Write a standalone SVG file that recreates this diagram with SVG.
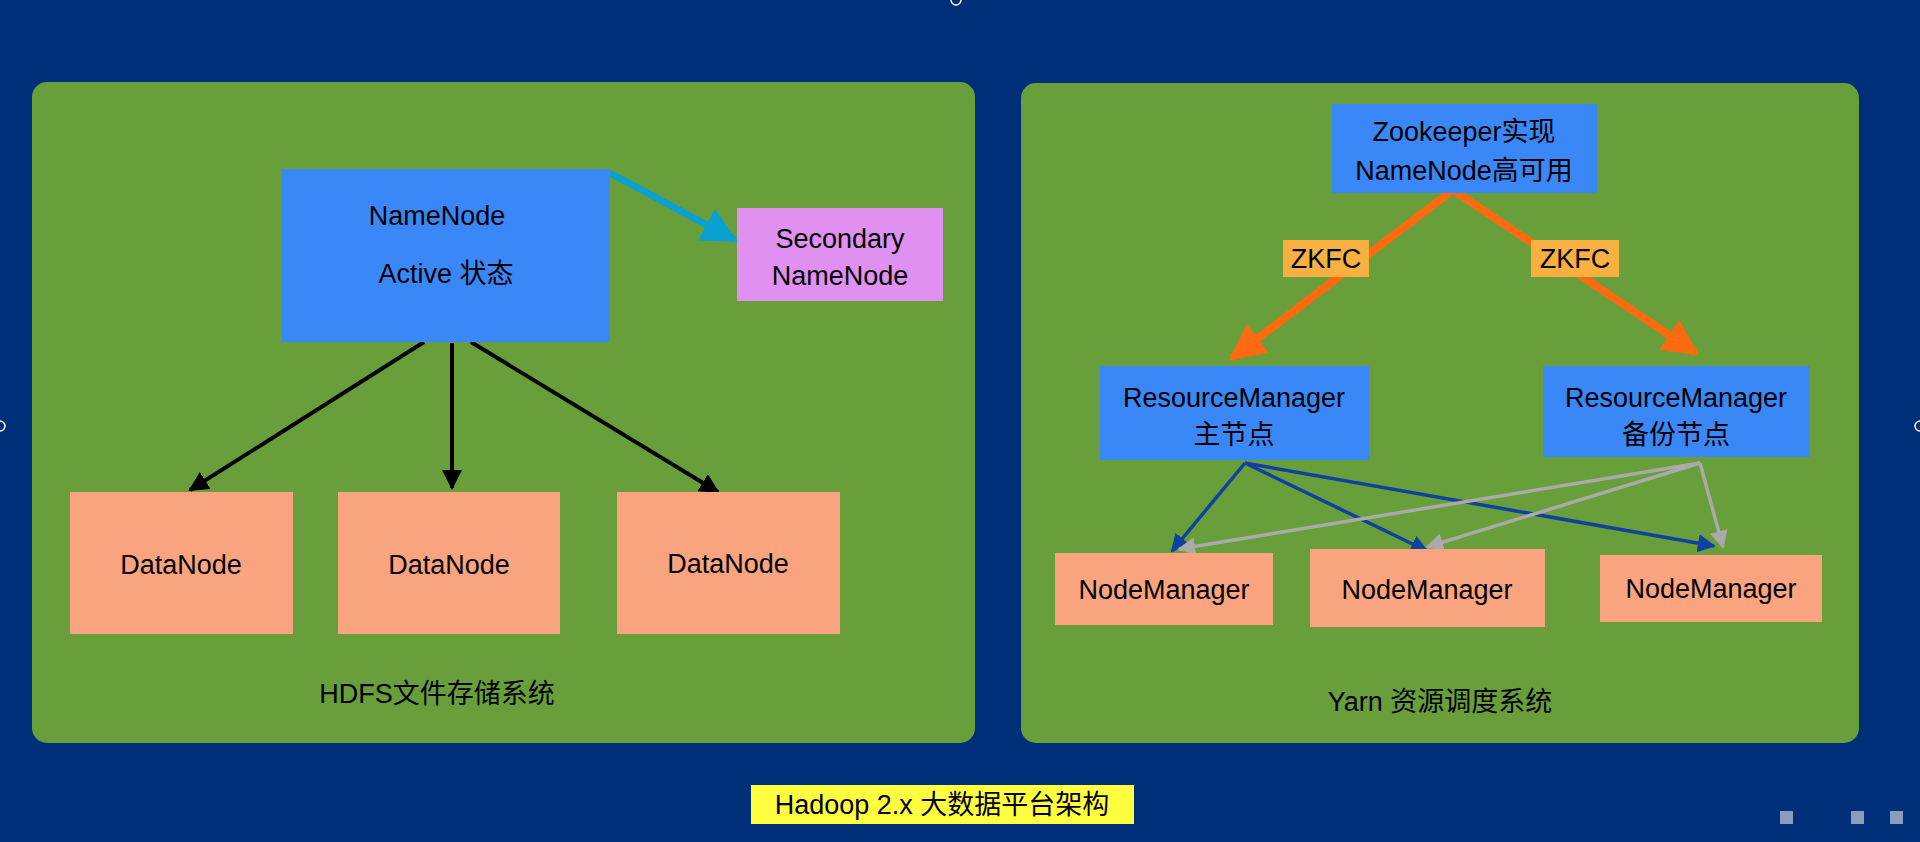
<svg xmlns="http://www.w3.org/2000/svg" width="1920" height="842" viewBox="0 0 1920 842">
<defs>
<style>
text{font-family:"Liberation Sans","Noto Sans CJK SC",sans-serif;font-size:27px;fill:#000;text-anchor:middle}
.panel{fill:#689f3a}
.blue{fill:#3a87f7}
.dn{fill:#f9a47e}
</style>
<marker id="mk" viewBox="0 0 10 10" refX="9" refY="5" markerWidth="6" markerHeight="6" orient="auto" markerUnits="userSpaceOnUse"><path d="M0,0L10,5L0,10z" fill="context-stroke"/></marker>
<marker id="mb" viewBox="0 0 10 10" refX="9" refY="5" markerWidth="20" markerHeight="20" orient="auto" markerUnits="userSpaceOnUse"><path d="M0,0L10,5L0,10z" fill="#000"/></marker>
<marker id="mc" viewBox="0 0 10 10" refX="9" refY="5" markerWidth="36" markerHeight="36" orient="auto" markerUnits="userSpaceOnUse"><path d="M0,0L10,5L0,10z" fill="#0aa0d0"/></marker>
<marker id="mo" viewBox="0 0 10 10" refX="9" refY="5" markerWidth="36" markerHeight="36" orient="auto" markerUnits="userSpaceOnUse"><path d="M0,0L10,5L0,10z" fill="#ff6a10"/></marker>
<marker id="mbl" viewBox="0 0 10 10" refX="9" refY="5" markerWidth="18" markerHeight="18" orient="auto" markerUnits="userSpaceOnUse"><path d="M0,0L10,5L0,10z" fill="#1040a0"/></marker>
<marker id="mg" viewBox="0 0 10 10" refX="9" refY="5" markerWidth="18" markerHeight="18" orient="auto" markerUnits="userSpaceOnUse"><path d="M0,0L10,5L0,10z" fill="#aaaaaa"/></marker>
</defs>
<rect width="1920" height="842" fill="#002f7a"/>
<circle cx="956" cy="0" r="5" fill="none" stroke="#fff" stroke-width="1.5"/>
<circle cx="0" cy="426" r="5" fill="none" stroke="#fff" stroke-width="1.5"/>
<circle cx="1920" cy="426" r="5" fill="none" stroke="#fff" stroke-width="1.5"/>
<rect x="1780" y="811" width="13" height="13" fill="#8a9cc0"/>
<rect x="1851" y="811" width="13" height="13" fill="#8a9cc0"/>
<rect x="1890" y="811" width="13" height="13" fill="#8a9cc0"/>
<g id="hdfs"><rect class="panel" x="32" y="82" width="943" height="661" rx="15"/><text x="437" y="703">HDFS文件存储系统</text></g>
<g id="yarn"><rect class="panel" x="1021" y="83" width="838" height="660" rx="15"/><text x="1440" y="711">Yarn 资源调度系统</text></g>
<g id="connectors" fill="none">
<line x1="610" y1="173" x2="735" y2="240" stroke="#0aa0d0" stroke-width="7" marker-end="url(#mc)"/>
<line x1="424" y1="342" x2="190" y2="490" stroke="#000" stroke-width="4" marker-end="url(#mb)"/>
<line x1="452" y1="343" x2="452" y2="488" stroke="#000" stroke-width="4" marker-end="url(#mb)"/>
<line x1="471" y1="342" x2="718" y2="492" stroke="#000" stroke-width="4" marker-end="url(#mb)"/>
<line x1="1453" y1="190" x2="1232" y2="358" stroke="#ff6a10" stroke-width="8" marker-end="url(#mo)"/>
<line x1="1453" y1="190" x2="1696" y2="353" stroke="#ff6a10" stroke-width="8" marker-end="url(#mo)"/>
<line x1="1245" y1="463" x2="1172" y2="551" stroke="#1040a0" stroke-width="3.5" marker-end="url(#mbl)"/>
<line x1="1245" y1="463" x2="1427" y2="551" stroke="#1040a0" stroke-width="3.5" marker-end="url(#mbl)"/>
<line x1="1245" y1="463" x2="1714" y2="546" stroke="#1040a0" stroke-width="3.5" marker-end="url(#mbl)"/>
<line x1="1700" y1="463" x2="1179" y2="549" stroke="#aaaaaa" stroke-width="3.5" marker-end="url(#mg)"/>
<line x1="1700" y1="463" x2="1427" y2="547" stroke="#aaaaaa" stroke-width="3.5" marker-end="url(#mg)"/>
<line x1="1700" y1="463" x2="1723" y2="547" stroke="#aaaaaa" stroke-width="3.5" marker-end="url(#mg)"/>
</g>
<g id="namenode"><rect class="blue" x="282" y="169" width="328" height="173"/><text x="437" y="225">NameNode</text><text x="446" y="283">Active  状态</text></g>
<g id="secondary"><rect fill="#e090f0" x="737" y="208" width="206" height="93"/><text x="840" y="248">Secondary</text><text x="840" y="285">NameNode</text></g>
<g id="dn1"><rect class="dn" x="70" y="492" width="223" height="142"/><text x="181" y="574">DataNode</text></g>
<g id="dn2"><rect class="dn" x="338" y="492" width="222" height="142"/><text x="449" y="574">DataNode</text></g>
<g id="dn3"><rect class="dn" x="617" y="492" width="223" height="142"/><text x="728" y="573">DataNode</text></g>
<g id="zk"><rect class="blue" x="1332" y="104" width="265" height="89"/><text x="1464" y="141">Zookeeper实现</text><text x="1464" y="180">NameNode高可用</text></g>
<g id="zkfc1"><rect fill="#f8b040" x="1283" y="240" width="86" height="37"/><text x="1326" y="268">ZKFC</text></g>
<g id="zkfc2"><rect fill="#f8b040" x="1531" y="240" width="88" height="37"/><text x="1575" y="268">ZKFC</text></g>
<g id="rm1"><rect class="blue" x="1100" y="366" width="269" height="94"/><text x="1234" y="407">ResourceManager</text><text x="1234" y="444">主节点</text></g>
<g id="rm2"><rect class="blue" x="1543" y="366" width="267" height="91"/><text x="1676" y="407">ResourceManager</text><text x="1676" y="444">备份节点</text></g>
<g id="nm1"><rect class="dn" x="1055" y="553" width="218" height="72"/><text x="1164" y="599">NodeManager</text></g>
<g id="nm2"><rect class="dn" x="1310" y="549" width="235" height="78"/><text x="1427" y="599">NodeManager</text></g>
<g id="nm3"><rect class="dn" x="1600" y="555" width="222" height="67"/><text x="1711" y="598">NodeManager</text></g>
<g id="title"><rect fill="#ffff40" x="751" y="785" width="383" height="39"/><text x="942" y="814">Hadoop 2.x 大数据平台架构</text></g>
</svg>
